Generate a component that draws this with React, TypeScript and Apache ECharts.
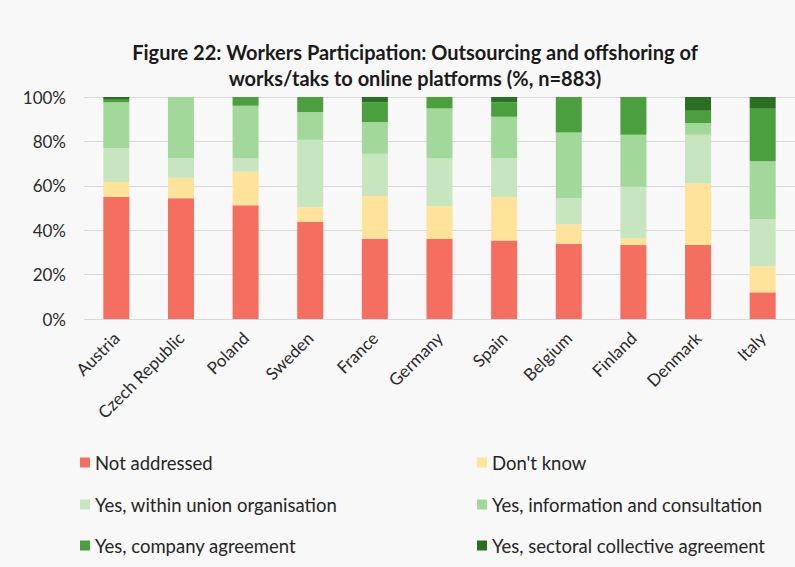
import React, { useEffect, useRef } from "react";
import * as echarts from "echarts";

const countries = ["Austria", "Czech Republic", "Poland", "Sweden", "France", "Germany", "Spain", "Belgium", "Finland", "Denmark", "Italy"];
const seriesNames = [
  "Not addressed",
  "Don't know",
  "Yes, within union organisation",
  "Yes, information and consultation",
  "Yes, company agreement",
  "Yes, sectoral collective agreement",
];
const notAddressed = [55.1, 54.4, 51.2, 43.7, 36.1, 36.1, 35.4, 33.9, 33.3, 33.3, 12.0];
const dontKnow = [6.6, 9.2, 15.1, 6.6, 19.3, 14.7, 19.6, 8.7, 3.0, 27.7, 11.8];
const unionOrg = [15.3, 8.8, 6.0, 30.4, 19.0, 21.5, 17.4, 11.8, 23.3, 22.0, 21.2];
const infoConsult = [20.6, 27.6, 23.8, 12.5, 14.3, 22.6, 18.7, 29.6, 23.4, 5.3, 26.1];
const companyAgr = [1.2, 0, 3.9, 6.8, 8.9, 5.1, 6.5, 16.0, 17.0, 5.5, 23.9];
const sectoralAgr = [1.2, 0, 0, 0, 2.4, 0, 2.4, 0, 0, 6.2, 5.0];
const yTicks = [0, 20, 40, 60, 80, 100];

const colors = ["#F46F60", "#FFE39B", "#C7E6C0", "#A3D89B", "#4C9F3F", "#2B6F25"];
const values = [notAddressed, dontKnow, unionOrg, infoConsult, companyAgr, sectoralAgr];

const legendPos = [
  { left: 80, top: 453 },
  { left: 477, top: 453 },
  { left: 80, top: 495 },
  { left: 477, top: 495 },
  { left: 80, top: 536 },
  { left: 477, top: 536 },
];

export default function App() {
  const ref = useRef<HTMLDivElement>(null);
  useEffect(() => {
    if (!ref.current) return;
    const chart = echarts.init(ref.current, null, { renderer: "svg" });
    const font = "Lato, 'Open Sans', sans-serif";
    chart.setOption({
      animation: false,
      backgroundColor: "#F8F8F8",
      textStyle: { fontFamily: font },
      title: {
        text: "Figure 22: Workers Participation: Outsourcing and offshoring of\nworks/taks to online platforms (%, n=883)",
        left: 410,
        top: 34,
        textAlign: "center",
        textStyle: { fontFamily: font, fontSize: 20, fontWeight: "bold", color: "#1a1a1a", lineHeight: 26 },
      },
      legend: seriesNames.map((n, i) => ({
        data: [n],
        left: legendPos[i].left,
        top: legendPos[i].top,
        padding: 0,
        icon: "rect",
        itemWidth: 10,
        itemHeight: 10,
        itemGap: 4,
        textStyle: { fontFamily: font, fontSize: 18.5, color: "#262626" },
      })),
      grid: { left: 84, top: 97, width: 722, height: 222, containLabel: false },
      xAxis: {
        type: "category",
        data: countries,
        axisLine: { show: false },
        axisTick: { show: false },
        axisLabel: { rotate: 45, interval: 0, fontSize: 17, color: "#2a2a2a", margin: 16, fontFamily: font },
      },
      yAxis: {
        type: "value",
        min: 0,
        max: 100,
        interval: 20,
        axisLabel: {
          formatter: (v: number) => (yTicks.includes(v) ? v + "%" : ""),
          fontSize: 17,
          color: "#2a2a2a",
          margin: 18,
          fontFamily: font,
        },
        splitLine: { lineStyle: { color: "#D9D9D9", width: 1 } },
        axisLine: { show: false },
        axisTick: { show: false },
      },
      series: seriesNames.map((n, i) => ({
        name: n,
        type: "bar",
        stack: "total",
        data: values[i],
        barWidth: 26,
        itemStyle: { color: colors[i] },
      })),
    });
    return () => chart.dispose();
  }, []);
  return <div ref={ref} style={{ position: "fixed", left: 0, top: 0, width: 795, height: 567 }} />;
}
